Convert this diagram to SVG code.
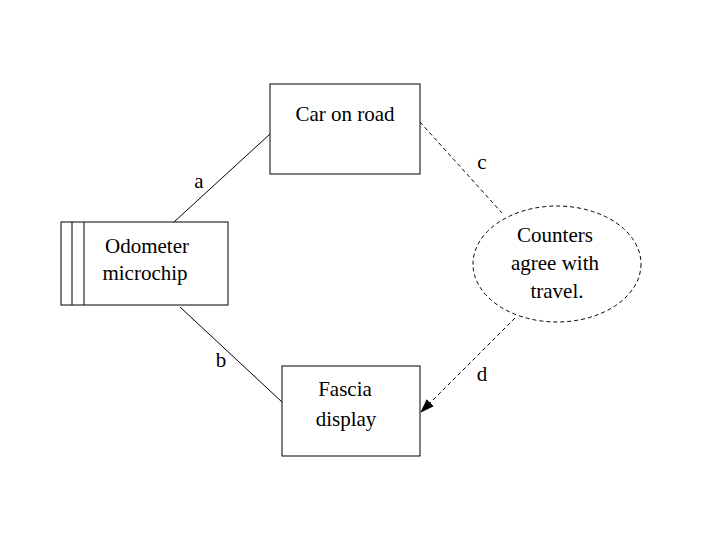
<svg xmlns="http://www.w3.org/2000/svg" width="720" height="540" viewBox="0 0 720 540">
<style>
.n{fill:#fff;stroke:#000;stroke-width:1}
.t{font-family:"Liberation Serif",serif;font-size:21px;fill:#000;text-anchor:middle}
.c{stroke:#000;stroke-width:1;fill:none}
.d{stroke-dasharray:4,3}
</style>
<defs><marker id="ah" markerWidth="14" markerHeight="10" refX="13" refY="5" orient="auto" markerUnits="userSpaceOnUse"><path d="M0,0L14,5L0,10z" fill="#000"/></marker></defs>
<rect width="720" height="540" fill="#fff"/>
<g id="connectors">
<line class="c" x1="174" y1="222" x2="270" y2="134"/>
<line class="c" x1="180" y1="307" x2="282" y2="402"/>
<line class="c d" x1="420" y1="122" x2="502" y2="213"/>
<line class="c d" x1="515" y1="318" x2="421" y2="412" marker-end="url(#ah)"/>
<text class="t" x="199" y="188">a</text>
<text class="t" x="221" y="367">b</text>
<text class="t" x="482" y="169">c</text>
<text class="t" x="482" y="381">d</text>
</g>
<g id="odometer"><rect class="n" x="61" y="222" width="167" height="83"/><line class="c" x1="72" y1="222" x2="72" y2="305"/><line class="c" x1="84" y1="222" x2="84" y2="305"/><text class="t" x="147" y="253">Odometer</text><text class="t" x="145" y="280">microchip</text></g>
<g id="car"><rect class="n" x="270" y="84" width="150" height="90"/><text class="t" x="345" y="121">Car on road</text></g>
<g id="fascia"><rect class="n" x="282" y="366" width="138" height="90"/><text class="t" x="345" y="396">Fascia</text><text class="t" x="346" y="426">display</text></g>
<g id="counters"><ellipse class="n d" cx="557" cy="264" rx="84" ry="58"/><text class="t" x="555" y="242">Counters</text><text class="t" x="555" y="270">agree with</text><text class="t" x="557" y="298">travel.</text></g>
</svg>
